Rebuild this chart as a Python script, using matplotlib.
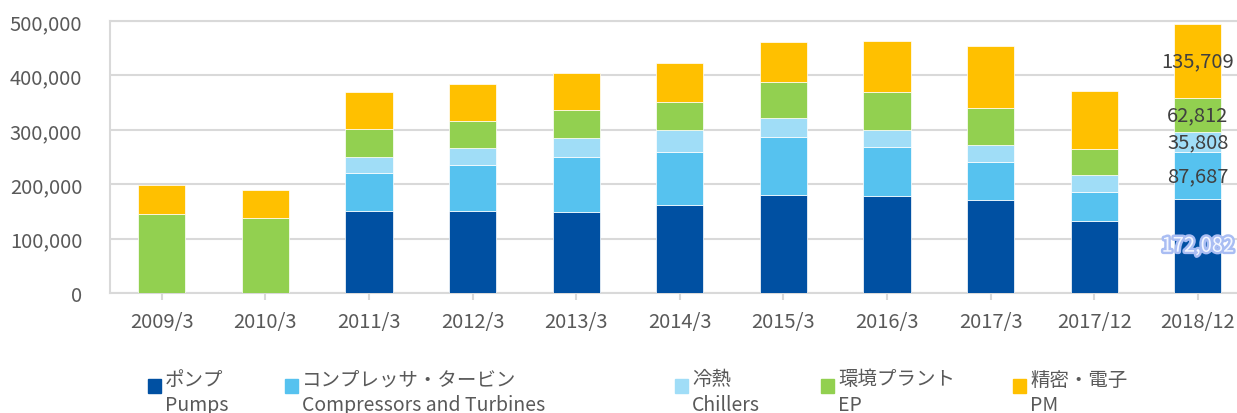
import numpy as np
import matplotlib
matplotlib.use('Agg')
from matplotlib import pyplot as plt
from matplotlib import patheffects as pe
from matplotlib.patches import Rectangle

plt.rcParams['font.family'] = ['Noto Sans CJK JP', 'DejaVu Sans']

periods = ['2009/3', '2010/3', '2011/3', '2012/3', '2013/3', '2014/3',
           '2015/3', '2016/3', '2017/3', '2017/12', '2018/12']

pumps       = [0, 0, 150200, 151300, 148900, 162300, 180700, 177700, 171500, 132900, 172082]
compressors = [0, 0, 70400, 84500, 101100, 97400, 106600, 91200, 68700, 53300, 87687]
chillers    = [0, 0, 29400, 30700, 34900, 39300, 34400, 30700, 31800, 30700, 35808]
ep          = [145200, 138400, 51400, 50200, 52000, 52600, 65600, 70400, 67500, 47200, 62812]
pm          = [53800, 50900, 68100, 68000, 66900, 71700, 73500, 93800, 113900, 107200, 135709]

names_jp = ['ポンプ', 'コンプレッサ・タービン', '冷熱', '環境プラント', '精密・電子']
names_en = ['Pumps', 'Compressors and Turbines', 'Chillers', 'EP', 'PM']
colors = ['#0050A2', '#56C2EF', '#A0DDF7', '#92D050', '#FFC000']

series = [pumps, compressors, chillers, ep, pm]

fig = plt.figure(figsize=(12.37, 4.14), dpi=100)
ax = fig.add_axes([110/1237, 1-294/414, 1139.6/1237, 272/414])

x = np.arange(len(periods))
bottom = np.zeros(len(periods))
for vals, c in zip(series, colors):
    ax.bar(x, vals, 0.455, bottom=bottom, color=c, edgecolor='white', linewidth=0.5, zorder=3)
    bottom += np.array(vals)

# data labels on the last bar
last = len(periods) - 1
base = 0
for i, vals in enumerate(series):
    v = vals[last]
    if i == 0:
        ax.text(x[last], base + v/2, f'{v:,}', ha='center', va='center', fontsize=14.5,
                color='#f4f7ff', zorder=5,
                path_effects=[pe.withStroke(linewidth=3.5, foreground='#a9bdf3')])
    else:
        ax.text(x[last], base + v/2, f'{v:,}', ha='center', va='center', fontsize=14.5,
                color='#404040', zorder=5)
    base += v

ax.set_xlim(-0.5, len(periods) - 0.5)
ax.set_ylim(0, 500000)
ax.set_yticks(np.arange(0, 500001, 100000))
ax.set_yticklabels([f'{v:,}' for v in range(0, 500001, 100000)])
ax.set_xticks(x)
ax.set_xticklabels(periods)
ax.grid(axis='y', color='#d9d9d9', linewidth=1.5, zorder=0)
ax.tick_params(axis='y', length=0, pad=20, labelsize=14.5, labelcolor='#595959')
ax.tick_params(axis='x', length=5, width=1.5, color='#d9d9d9', pad=8, labelsize=14.5,
               labelcolor='#595959')
for s in ['left', 'top', 'bottom']:
    ax.spines[s].set_color('#d9d9d9')
    ax.spines[s].set_linewidth(1.5)
ax.spines['right'].set_visible(False)

# unit note, mostly cropped at top
fig.text(0.005, 1.0 + 10/414, '（百万円 / Millions of yen）', fontsize=13, color='#595959',
         va='center', ha='left')

# legend
leg_x = [148, 285, 675, 821, 1013]
for lx, c, jp, en in zip(leg_x, colors, names_jp, names_en):
    fig.patches.append(Rectangle((lx/1237, 1-394/414), 13/1237, 14/414,
                                 transform=fig.transFigure, color=c))
    fig.text((lx+17)/1237, 1-380/414, jp, fontsize=14, color='#595959', va='center')
    fig.text((lx+17)/1237, 1-406/414, en, fontsize=14, color='#595959', va='center')

fig.savefig('out.png', dpi=100)
